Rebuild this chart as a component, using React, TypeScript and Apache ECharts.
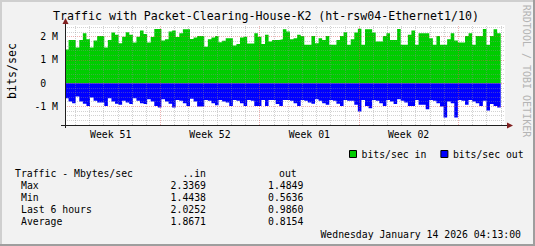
import React, { useEffect, useRef } from 'react';
import * as echarts from 'echarts';

const TITLE = 'Traffic with Packet-Clearing-House-K2 (ht-rsw04-Ethernet1/10)';
const Y_TITLE = 'bits/sec';
const WATERMARK = 'RRDTOOL / TOBI OETIKER';
const WEEK_LABELS = ['Week 51', 'Week 52', 'Week 01', 'Week 02'];
const LEGEND_IN = 'bits/sec in';
const LEGEND_OUT = 'bits/sec out';

// 6-hour samples, in M bits/sec
const BITS_IN = [
  1.45, 1.86, 1.86, 1.53, 1.86, 2.15, 1.89, 1.53, 1.83, 2.03,
  2.03, 1.53, 1.86, 2.18, 2.08, 1.72, 2.0, 2.19, 2.08, 1.75,
  2.0, 2.26, 2.11, 1.75, 1.98, 2.33, 2.33, 1.83, 1.89, 2.22,
  2.26, 1.98, 2.15, 2.32, 2.32, 1.9, 1.96, 2.03, 2.03, 1.57,
  1.89, 1.96, 2.03, 1.76, 1.82, 1.93, 1.93, 1.62, 1.68, 1.96,
  2.0, 1.7, 1.7, 2.15, 2.0, 1.68, 2.08, 1.79, 1.86, 1.86,
  1.89, 2.32, 2.22, 1.89, 1.93, 2.08, 2.03, 1.65, 1.65, 2.03,
  1.72, 1.93, 1.86, 2.03, 1.65, 1.65, 1.86, 2.03, 2.19, 1.65,
  1.89, 2.18, 2.34, 1.65, 2.32, 2.32, 2.18, 1.79, 1.79, 2.03,
  2.15, 1.86, 1.86, 2.33, 1.65, 1.65, 2.08, 2.26, 1.65, 2.15,
  2.15, 2.15, 1.93, 1.65, 2.03, 1.65, 1.65, 1.89, 2.15, 1.83,
  1.75, 1.75, 2.03, 2.15, 1.65, 2.03, 2.03, 2.33, 1.65, 2.03,
  2.32, 2.15,
];
const BITS_OUT = [
  0.65, 0.79, 0.86, 0.57, 0.79, 0.89, 0.98, 0.62, 0.76, 0.83,
  0.83, 0.98, 0.65, 0.79, 0.89, 0.93, 0.76, 0.83, 0.9, 0.65,
  0.76, 0.86, 0.9, 0.69, 0.79, 0.98, 1.05, 0.69, 0.79, 0.89,
  1.05, 0.72, 0.76, 0.86, 0.98, 0.67, 0.79, 1.0, 1.0, 0.72,
  0.76, 0.86, 0.95, 0.72, 0.79, 0.83, 0.98, 0.72, 0.76, 0.86,
  0.98, 0.72, 0.76, 0.98, 0.98, 0.72, 0.98, 0.72, 0.72, 0.9,
  0.98, 0.72, 0.72, 0.76, 0.86, 0.98, 0.72, 0.76, 0.83, 0.89,
  0.69, 0.76, 0.86, 0.93, 0.72, 0.76, 0.89, 0.98, 0.72, 0.76,
  0.76, 0.93, 1.22, 0.72, 0.98, 1.08, 0.72, 0.76, 0.86, 0.98,
  0.72, 0.79, 0.9, 0.69, 0.76, 0.83, 0.98, 0.98, 0.72, 0.93,
  0.93, 1.12, 0.72, 0.76, 0.86, 1.0, 1.48, 0.79, 0.86, 1.48,
  0.72, 0.76, 0.93, 0.72, 0.79, 0.86, 0.98, 0.76, 1.18, 0.9,
  0.98, 1.05,
];

const STAT_HEADER = 'Traffic - Mbytes/sec';
const STAT_COL_IN = '..in';
const STAT_COL_OUT = 'out';
const STAT_ROWS = ['Max', 'Min', 'Last 6 hours', 'Average'];
const STAT_IN = ['2.3369', '1.4438', '2.0252', '1.8671'];
const STAT_OUT = ['1.4849', '0.5636', '0.9860', '0.8154'];
const TIMESTAMP = 'Wednesday January 14 2026 04:13:00';

// axis setup (in M and in 6-hour slots)
const Y_MIN = -1.8;
const Y_MAX = 2.5;
const Y_MINOR = 0.2;
const X_MAX = 123.2;
const WEEK_START = 26.7;
const WEEK_SPAN = 27.8;

const MONO = '"DejaVu Sans Mono", monospace';

export default function App() {
  const ref = useRef<HTMLDivElement>(null);
  useEffect(() => {
    document.body.style.margin = '0';
    const chart = echarts.init(ref.current!, null, { renderer: 'svg' });

    const inData = BITS_IN.map((v, i) => [i, v]);
    inData.push([BITS_IN.length, BITS_IN[BITS_IN.length - 1]]);
    const outData = BITS_OUT.map((v, i) => [i, -v]);
    outData.push([BITS_OUT.length, -BITS_OUT[BITS_OUT.length - 1]]);

    const minorStyle = { color: 'rgba(143,143,143,0.4)', width: 1, type: [1, 1] as any };
    const majorStyle = { color: 'rgba(222,79,79,0.45)', width: 1, type: [1, 1] as any };

    const gridLines: any[] = [];
    for (let k = Math.round(Y_MIN / Y_MINOR); k * Y_MINOR <= Y_MAX + 1e-9; k++) {
      const v = +(k * Y_MINOR).toFixed(2);
      const isMajor = Math.abs(v - Math.round(v)) < 1e-9;
      gridLines.push({ yAxis: v, lineStyle: isMajor ? majorStyle : minorStyle });
    }
    for (let k = -10; k < 40; k++) {
      const x = WEEK_START + (k * WEEK_SPAN) / 7;
      if (x <= 0.01 || x >= X_MAX) continue;
      const isWeek = k % 7 === 0;
      gridLines.push({ xAxis: x, lineStyle: isWeek ? majorStyle : minorStyle });
    }
    const weekCenters = WEEK_LABELS.map((_, k) => WEEK_START + (k - 0.5) * WEEK_SPAN);

    const txt = (text: string, x: number, y: number, align: string, size = 9.8, extra: any = {}) => ({
      type: 'text',
      x,
      y,
      silent: true,
      ...extra,
      style: {
        text,
        x: 0,
        y: 0,
        fill: extra.fill || '#000',
        fontFamily: MONO,
        fontSize: size,
        textAlign: align,
        textVerticalAlign: 'middle',
        align,
        verticalAlign: 'middle',
      },
    });

    const graphics: any[] = [
      { type: 'rect', shape: { x: 0, y: 0, width: 535, height: 2 }, style: { fill: '#cfcfcf' }, silent: true },
      { type: 'rect', shape: { x: 0, y: 0, width: 2, height: 246 }, style: { fill: '#cfcfcf' }, silent: true },
      { type: 'rect', shape: { x: 0, y: 244, width: 535, height: 2 }, style: { fill: '#9e9e9e' }, silent: true },
      { type: 'rect', shape: { x: 533, y: 0, width: 2, height: 246 }, style: { fill: '#9e9e9e' }, silent: true },
      { type: 'line', shape: { x1: 65.5, y1: 128, x2: 65.5, y2: 21 }, style: { stroke: '#1f1f1f', lineWidth: 1 }, silent: true, z: 10 },
      { type: 'line', shape: { x1: 61, y1: 125.5, x2: 508, y2: 125.5 }, style: { stroke: '#1f1f1f', lineWidth: 1 }, silent: true, z: 10 },
      { type: 'polygon', shape: { points: [[62.5, 24], [68.5, 24], [65.5, 18]] }, style: { fill: '#801f1f' }, silent: true, z: 10 },
      { type: 'polygon', shape: { points: [[507, 122.5], [507, 128.5], [513, 125.5]] }, style: { fill: '#801f1f' }, silent: true, z: 10 },
      txt(TITLE, 266, 16, 'center', 11.6),
      txt(Y_TITLE, 12, 71, 'center', 11.6, { rotation: Math.PI / 2 }),
      txt(WATERMARK, 526, 71, 'center', 10, { rotation: -Math.PI / 2, fill: '#b4b4b4' }),
      txt(STAT_HEADER, 15, 173.5, 'left'),
      txt(STAT_COL_IN, 206, 173.5, 'right'),
      txt(STAT_COL_OUT, 279, 173.5, 'left'),
      ...STAT_ROWS.map((r, i) => txt(r, 21, 185.5 + i * 12, 'left')),
      ...STAT_IN.map((r, i) => txt(r, 206, 185.5 + i * 12, 'right')),
      ...STAT_OUT.map((r, i) => txt(r, 268, 185.5 + i * 12, 'left')),
      txt(TIMESTAMP, 521, 234, 'right'),
    ];

    chart.setOption({
      animation: false,
      backgroundColor: '#f2f2f2',
      textStyle: { fontFamily: MONO },
      grid: {
        left: 65,
        top: 25,
        width: 440,
        height: 100,
        show: true,
        backgroundColor: '#ffffff',
        borderWidth: 0,
      },
      legend: {
        left: 344,
        top: 144,
        itemWidth: 7,
        itemHeight: 7,
        itemGap: 14,
        icon: 'rect',
        itemStyle: { borderColor: '#000', borderWidth: 1 },
        textStyle: { fontFamily: MONO, fontSize: 9.8, color: '#000' },
        data: [LEGEND_IN, LEGEND_OUT],
        selectedMode: false,
      },
      xAxis: {
        type: 'value',
        min: 0,
        max: X_MAX,
        axisLine: { show: false },
        axisTick: { show: false },
        splitLine: { show: false },
        axisLabel: {
          customValues: weekCenters,
          formatter: (v: number) => {
            const idx = weekCenters.findIndex((c) => Math.abs(c - v) < 1e-6);
            return idx >= 0 ? WEEK_LABELS[idx] : '';
          },
          fontFamily: MONO,
          fontSize: 9.8,
          color: '#000',
          margin: 4,
        },
      },
      yAxis: {
        type: 'value',
        min: Y_MIN,
        max: Y_MAX,
        interval: Y_MINOR,
        axisLine: { show: false },
        axisTick: { show: false },
        splitLine: { show: false },
        axisLabel: {
          formatter: (v: number) => {
            const r = Math.round(v);
            if (Math.abs(v - r) > 1e-6) return '';
            return r === 0 ? '0\u00a0\u00a0' : `${r} M`;
          },
          fontFamily: MONO,
          fontSize: 9.8,
          color: '#000',
          margin: 7,
        },
      },
      series: [
        {
          name: LEGEND_IN,
          type: 'line',
          step: 'end',
          data: inData,
          showSymbol: false,
          symbol: 'none',
          color: '#00cc00',
          lineStyle: { width: 0 },
          areaStyle: { color: '#00cc00', opacity: 1 },
          silent: true,
        },
        {
          name: LEGEND_OUT,
          type: 'line',
          step: 'end',
          data: outData,
          showSymbol: false,
          symbol: 'none',
          color: '#0000ff',
          lineStyle: { width: 0 },
          areaStyle: { color: '#0000ff', opacity: 1 },
          silent: true,
          markLine: {
            silent: true,
            symbol: ['none', 'none'],
            label: { show: false },
            emphasis: { disabled: true },
            data: gridLines,
          },
        },
      ],
      graphic: graphics,
    });
    return () => chart.dispose();
  }, []);
  return <div ref={ref} style={{ width: 535, height: 246 }} />;
}
